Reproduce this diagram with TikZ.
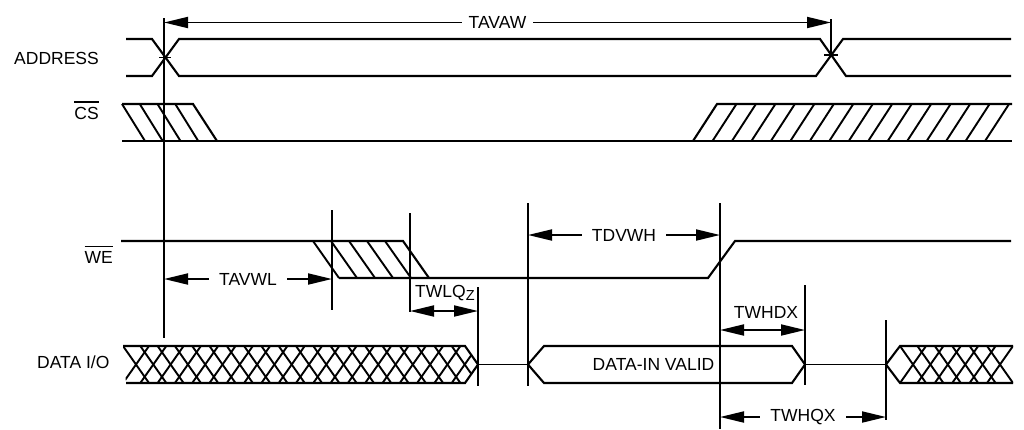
\documentclass[tikz,border=0pt]{standalone}
\usepackage{fontspec}
\setmainfont{Liberation Sans}
\usetikzlibrary{arrows.meta}
\newcommand\barredtext[1]{\leavevmode\vbox{\hrule height 1.9pt\kern 3.5pt\hbox{#1}}}
\begin{document}
\begin{tikzpicture}[x=1pt,y=-1pt,
  sig/.style={line width=2.1pt, line join=miter},
  midsig/.style={line width=1.3pt},
  hatchline/.style={line width=1.9pt},
  marker/.style={line width=1.9pt},
  dimarrow/.style={line width=1.9pt, {Triangle[length=24pt,width=11pt]}-{Triangle[length=24pt,width=11pt]}},
  lbl/.style={inner sep=0pt, font=\fontsize{17.5}{20}\selectfont},
  dimlbl/.style={lbl, fill=white, inner xsep=10pt, inner ysep=2pt},
]
\fill[white] (0,0) rectangle (1024,429);
\useasboundingbox (0,0) rectangle (1024,429);

% ---------- signal names ----------
\node[lbl, anchor=base east] (addr) at (99,64) {ADDRESS};
\node[lbl, anchor=base east] (cs) at (99,119) {\barredtext{CS}};
\node[lbl, anchor=base east] (we) at (113,263) {\barredtext{WE}};
\node[lbl, anchor=base west] (dio) at (37,368) {DATA I/O};

% ---------- ADDRESS ----------
\draw[sig] (126,39) -- (152,39) -- (179,76) -- (816,76) -- (843,39) -- (1011,39);
\draw[sig] (126,76) -- (152,76) -- (179,39) -- (820,39) -- (846,76) -- (1011,76);
\draw[marker] (159,57.5) -- (171,57.5);
\draw[marker] (824,55) -- (838,55);

% ---------- CS ----------
\draw[sig] (122,104) -- (193,104) -- (217,141);
\foreach \k in {0,...,3}{\pgfmathsetmacro\a{122+17.75*\k}\draw[hatchline] (\a,104) -- ++(23,37);}
\draw[sig] (122,141) -- (1012,141);
\draw[sig] (693,141) -- (717,104) -- (1012,104);
\foreach \k in {1,...,15}{\pgfmathsetmacro\b{693+19.47*\k}\draw[hatchline] (\b,141) -- ++(24,-37);}

% ---------- WE ----------
\draw[sig] (121,241) -- (403,241) -- (429,278);
\foreach \k in {0,...,4}{\pgfmathsetmacro\a{313+18*\k}\draw[hatchline] (\a,241) -- ++(26,37);}
\draw[sig] (339,278) -- (708,278) -- (735,241) -- (1011,241);

% ---------- DATA I/O ----------
\begin{scope}
  \clip (123,346) -- (465,346) -- (478,364.5) -- (465,383) -- (126,383) -- cycle;
  \foreach \k in {0,...,20}{\pgfmathsetmacro\a{123+17.3*\k}
    \draw[hatchline] (\a,346) -- ++(26,37);
    \draw[hatchline] (\a,383) -- ++(26,-37);}
\end{scope}
\draw[sig] (123,346) -- (465,346) -- (478,364.5) -- (465,383) -- (126,383);
\draw[midsig] (478,364.5) -- (528,364.5);
\draw[sig] (528,364.5) -- (544,346) -- (792,346) -- (805,364.5) -- (792,383) -- (544,383) -- cycle;
\draw[midsig] (805,364.5) -- (886,364.5);
\begin{scope}
  \clip (886,364.5) -- (900,346) -- (1013,346) -- (1013,383) -- (900,383) -- cycle;
  \foreach \k in {0,...,5}{\pgfmathsetmacro\a{900+17.4*\k}
    \draw[hatchline] (\a,346) -- ++(26,37);
    \draw[hatchline] (\a,383) -- ++(26,-37);}
\end{scope}
\draw[sig] (1013,346) -- (900,346) -- (886,364.5) -- (900,383) -- (1013,383);
\node[lbl, anchor=base] (valid) at (653.5,370.6) {DATA-IN VALID};

% ---------- reference verticals ----------
\coordinate (v1t) at (164,18);   \coordinate (v1b) at (164,338);
\coordinate (v9t) at (831,19);   \coordinate (v9b) at (831,56);
\coordinate (v2t) at (332,210);  \coordinate (v2b) at (332,310);
\coordinate (v3t) at (410,213);  \coordinate (v3b) at (410,312);
\coordinate (v4t) at (478,287);  \coordinate (v4b) at (478,386);
\coordinate (v5t) at (528,203);  \coordinate (v5b) at (528,386);
\coordinate (v6t) at (720,203);  \coordinate (v6b) at (720,429);
\coordinate (v7t) at (805,285);  \coordinate (v7b) at (805,385);
\coordinate (v8t) at (886,320);  \coordinate (v8b) at (886,420);
\foreach \v in {1,...,9}{\draw[marker] (v\v t) -- (v\v b);}

% ---------- timing dimensions ----------
\coordinate (tavawL) at (164,22.5); \coordinate (tavawR) at (831,22.5);
\draw[dimarrow] (tavawL) -- (tavawR) node[dimlbl, midway, inner xsep=7pt] (tavaw) {TAVAW};

\coordinate (tavwlL) at (164,279); \coordinate (tavwlR) at (332,279);
\draw[dimarrow] (tavwlL) -- (tavwlR) node[dimlbl, midway] (tavwl) {TAVWL};

\coordinate (tdvwhL) at (528,235); \coordinate (tdvwhR) at (720,235);
\draw[dimarrow] (tdvwhL) -- (tdvwhR) node[dimlbl, midway] (tdvwh) {TDVWH};

\coordinate (twlqzL) at (410,311); \coordinate (twlqzR) at (478,311);
\draw[dimarrow] (twlqzL) -- (twlqzR);
\node[lbl, anchor=base west] (twlqz) at (415,297) {TWLQ\raisebox{-3.5pt}{\fontsize{14.5}{15}\selectfont Z}};

\coordinate (twhdxL) at (720,330); \coordinate (twhdxR) at (805,330);
\draw[dimarrow] (twhdxL) -- (twhdxR);
\node[lbl, anchor=base] (twhdx) at (766,318) {TWHDX};

\coordinate (twhqxL) at (720,417); \coordinate (twhqxR) at (886,417);
\draw[dimarrow] (twhqxL) -- (twhqxR) node[dimlbl, midway] (twhqx) {TWHQX};
\end{tikzpicture}
\end{document}
